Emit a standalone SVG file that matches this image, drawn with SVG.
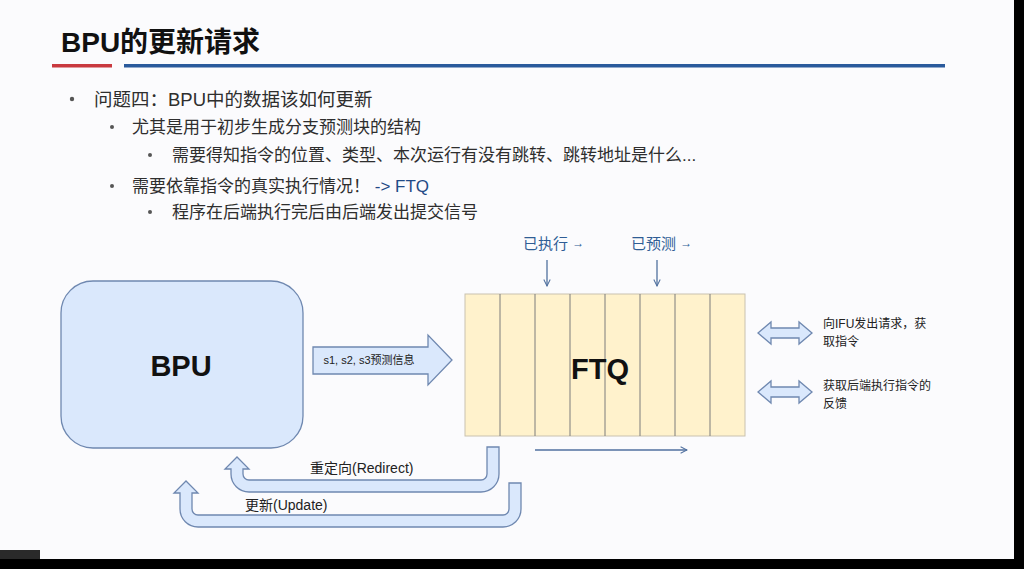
<svg xmlns="http://www.w3.org/2000/svg" width="1024" height="569" viewBox="0 0 1024 569">
  <style>
    .cjk { font-family: "Liberation Sans", "Noto Sans CJK SC", sans-serif; }
    .latinB { font-family: "Liberation Sans", "Noto Sans", sans-serif; font-weight: bold; fill: #111; }
    .body { fill: #2e2e2e; dominant-baseline: central; }
    .blue { fill: #2f5d95; }
    .bullet { fill: #555; }
    .block { fill: #dae8fc; stroke: #6f88b0; stroke-width: 1.3; }
    .thin { stroke: #50709f; stroke-width: 1.3; fill: none; }
    .cell { fill: #fff2cc; stroke: #c9c2b0; stroke-width: 1; }
    .divider { stroke: #7d7d7d; stroke-width: 1; }
  </style>
  <defs>
    <marker id="open" viewBox="0 0 10 10" refX="9" refY="5" markerWidth="8" markerHeight="8" orient="auto" markerUnits="userSpaceOnUse">
      <path d="M1,1 L9,5 L1,9" fill="none" stroke="#50709f" stroke-width="1.3"/>
    </marker>
  </defs>

  <!-- page -->
  <rect x="0" y="0" width="1024" height="569" fill="#fbfbfd"/>
  <rect x="1014" y="0" width="10" height="569" fill="#000"/>
  <rect x="0" y="559" width="1024" height="10" fill="#000"/>
  <rect x="0" y="550" width="40" height="9" fill="#2a2a2a"/>

  <!-- title -->
  <text class="cjk" x="61" y="42" font-size="28" font-weight="bold" fill="#111" dominant-baseline="central">BPU的更新请求</text>
  <rect x="52" y="64" width="60" height="3.5" fill="#c9393f"/>
  <rect x="124" y="64" width="821" height="3.5" fill="#2a5a9c"/>

  <!-- bullet list -->
  <g id="bullets" class="cjk">
    <circle class="bullet" cx="72" cy="99" r="2.2"/>
    <text class="body" x="94" y="99" font-size="18.5">问题四：BPU中的数据该如何更新</text>
    <circle class="bullet" cx="112" cy="127" r="2"/>
    <text class="body" x="132" y="127" font-size="17">尤其是用于初步生成分支预测块的结构</text>
    <circle class="bullet" cx="150" cy="155" r="2"/>
    <text class="body" x="172" y="155" font-size="17">需要得知指令的位置、类型、本次运行有没有跳转、跳转地址是什么...</text>
    <circle class="bullet" cx="112" cy="186" r="2"/>
    <text class="body" x="132" y="186" font-size="17">需要依靠指令的真实执行情况！ <tspan fill="#1f4a86">-&gt; FTQ</tspan></text>
    <circle class="bullet" cx="150" cy="212" r="2"/>
    <text class="body" x="172" y="212" font-size="17">程序在后端执行完后由后端发出提交信号</text>
  </g>

  <!-- BPU -->
  <g id="bpu">
    <rect class="block" x="61" y="281" width="242" height="167" rx="32" ry="32"/>
    <text class="latinB" x="181" y="366" font-size="29" text-anchor="middle" dominant-baseline="central">BPU</text>
  </g>

  <!-- FTQ -->
  <g id="ftq">
    <rect class="cell" x="465" y="294" width="280" height="142"/>
    <line class="divider" x1="500" y1="294" x2="500" y2="436"/>
    <line class="divider" x1="535" y1="294" x2="535" y2="436"/>
    <line class="divider" x1="570" y1="294" x2="570" y2="436"/>
    <line class="divider" x1="605" y1="294" x2="605" y2="436"/>
    <line class="divider" x1="640" y1="294" x2="640" y2="436"/>
    <line class="divider" x1="675" y1="294" x2="675" y2="436"/>
    <line class="divider" x1="710" y1="294" x2="710" y2="436"/>
    <text class="latinB" x="600" y="369" font-size="29" text-anchor="middle" dominant-baseline="central">FTQ</text>
  </g>

  <!-- pointer labels -->
  <g id="pointers" class="cjk">
    <text class="blue" x="523" y="243" font-size="15" dominant-baseline="central">已执行 <tspan font-size="12">→</tspan></text>
    <text class="blue" x="631" y="243" font-size="15" dominant-baseline="central">已预测 <tspan font-size="12">→</tspan></text>
  </g>

  <!-- side notes -->
  <g id="notes" class="cjk" font-size="12" fill="#222">
    <text x="823" y="324" dominant-baseline="central">向IFU发出请求，获</text>
    <text x="823" y="342" dominant-baseline="central">取指令</text>
    <text x="823" y="386" dominant-baseline="central">获取后端执行指令的</text>
    <text x="823" y="404" dominant-baseline="central">反馈</text>
  </g>

  <!-- connectors -->
  <g id="connectors">
    <!-- prediction info to FTQ -->
    <path class="block" d="M313,347 L428,347 L428,335 L452,360 L428,385 L428,374 L313,374 Z"/>
    <text class="cjk" x="369" y="360" font-size="11" fill="#222" text-anchor="middle" dominant-baseline="central">s1, s2, s3预测信息</text>

    <!-- pointer arrows into FTQ -->
    <line class="thin" x1="547" y1="260" x2="547" y2="286" marker-end="url(#open)"/>
    <line class="thin" x1="657" y1="260" x2="657" y2="286" marker-end="url(#open)"/>

    <!-- queue direction -->
    <line class="thin" x1="535" y1="450" x2="687" y2="450" marker-end="url(#open)"/>

    <!-- IFU / backend exchange -->
    <path class="block" d="M758,333 L771,322 L771,328 L799,328 L799,322 L812,333 L799,344 L799,338 L771,338 L771,344 Z"/>
    <path class="block" d="M758,392 L771,381 L771,387 L799,387 L799,381 L812,392 L799,403 L799,397 L771,397 L771,403 Z"/>

    <!-- redirect back to BPU -->
    <path class="block" d="M487,447 L499,447 L499,474 A18,18 0 0 1 481,492 L249,492 A18,18 0 0 1 231,474 L231,469 L225,469 L237,457 L249,469 L243,469 L243,474 A6,6 0 0 0 249,480 L481,480 A6,6 0 0 0 487,474 Z"/>
    <text class="cjk" x="310" y="468" font-size="14" fill="#222" dominant-baseline="central">重定向(Redirect)</text>

    <!-- update back to BPU -->
    <path class="block" d="M509,483 L521,483 L521,509 A18,18 0 0 1 503,527 L198,527 A18,18 0 0 1 180,509 L180,493 L174,493 L186,481 L198,493 L192,493 L192,509 A6,6 0 0 0 198,515 L503,515 A6,6 0 0 0 509,509 Z"/>
    <text class="cjk" x="245" y="505" font-size="14" fill="#222" dominant-baseline="central">更新(Update)</text>
  </g>
</svg>
